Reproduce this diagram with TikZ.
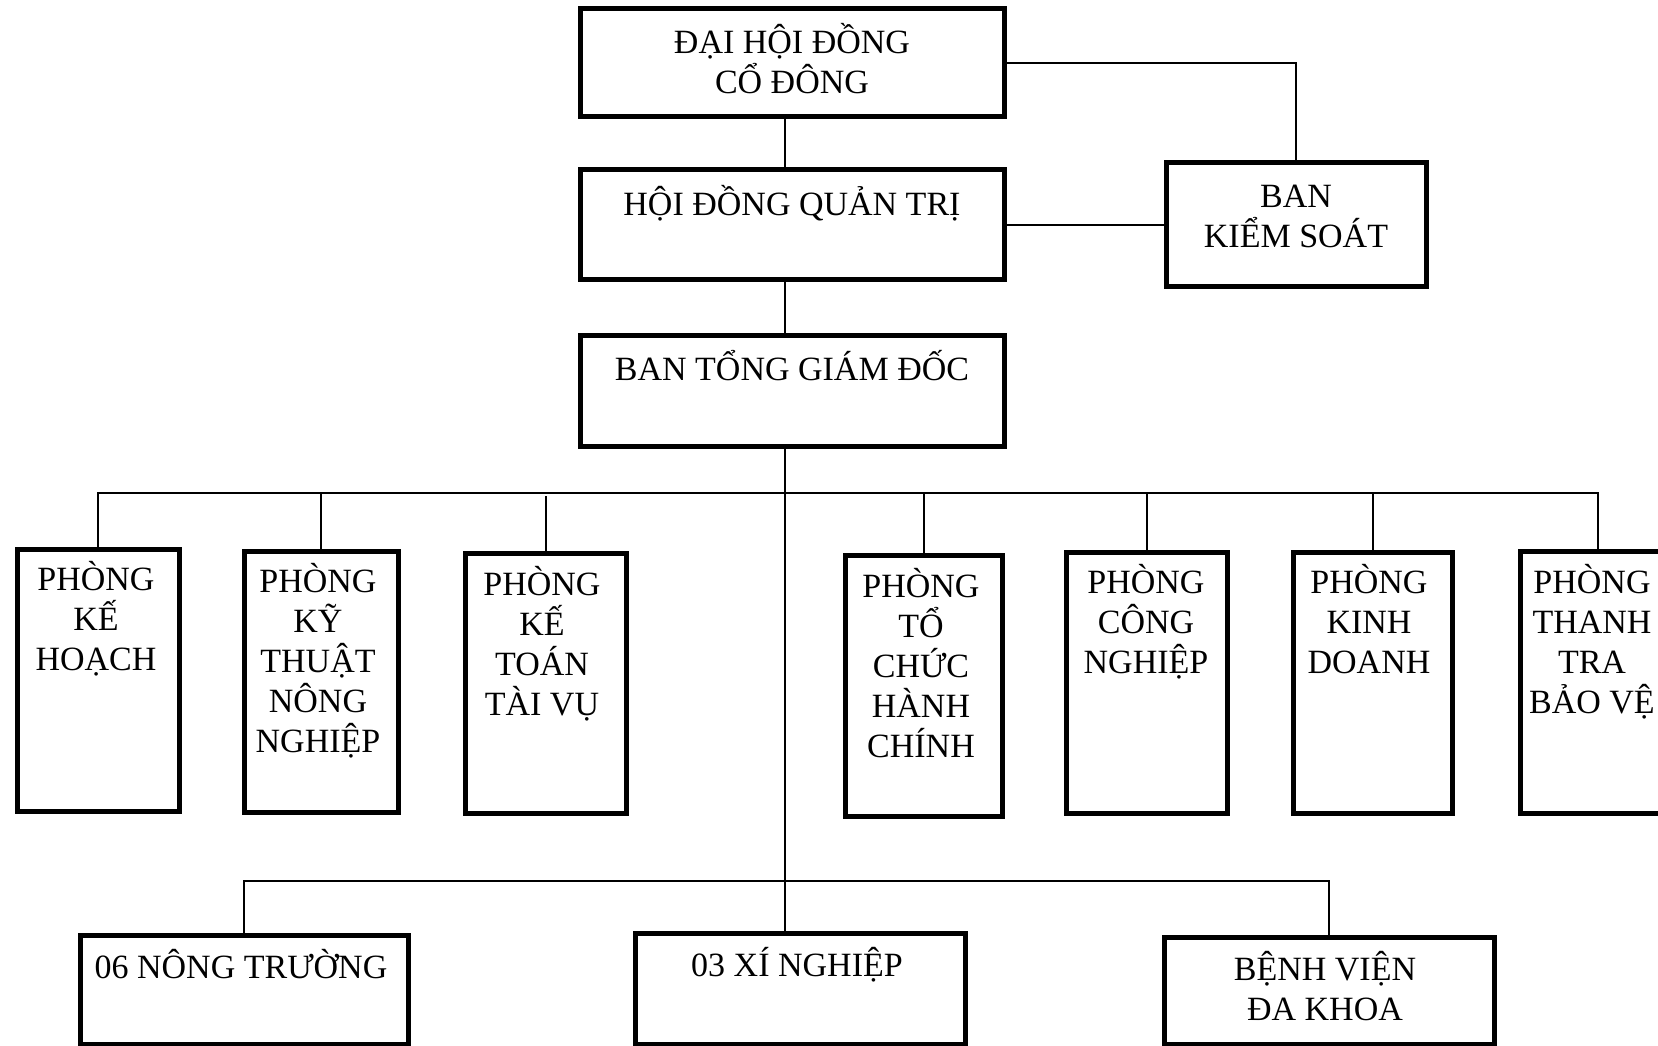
\documentclass[tikz,border=0pt]{standalone}
\usepackage{fontspec}
\setmainfont{Liberation Serif}
\begin{document}
\begin{tikzpicture}[x=1pt,y=-1pt,
  box/.style={draw=black,line width=5pt,inner sep=0pt,outer sep=0pt,fill=white},
  conn/.style={draw=black,line width=2pt},
  txt/.style={anchor=north,inner sep=0pt,align=center,font=\fontsize{34}{40}\selectfont}]
\useasboundingbox (0,0) rectangle (1658,1046);
\fill[white] (0,0) rectangle (1658,1046);
\clip (0,0) rectangle (1658,1046);
\newcommand{\fs}{\rule{0pt}{34pt}}
% top boxes
\node[box,minimum width=424pt,minimum height=108pt] (dh) at (792,63) {};
\node[box,minimum width=424pt,minimum height=109pt] (hd) at (792,224.5) {};
\node[box,minimum width=424pt,minimum height=111pt] (bt) at (792,390.5) {};
\node[box,minimum width=260pt,minimum height=123pt] (bks) at (1296,224.5) {};
% department boxes
\node[box,minimum width=162pt,minimum height=262pt] (p1) at (98,680) {};
\node[box,minimum width=154pt,minimum height=261pt] (p2) at (321,681.5) {};
\node[box,minimum width=161pt,minimum height=260pt] (p3) at (545.5,683) {};
\node[box,minimum width=157pt,minimum height=261pt] (p4) at (924,685.5) {};
\node[box,minimum width=161pt,minimum height=261pt] (p5) at (1147,682.5) {};
\node[box,minimum width=159pt,minimum height=261pt] (p6) at (1373,682.5) {};
\node[box,minimum width=155pt,minimum height=262pt] (p7) at (1598,682) {};
% bottom boxes
\node[box,minimum width=328pt,minimum height=109.5pt] (nt) at (244,989.75) {};
\node[box,minimum width=330pt,minimum height=111.5pt] (xn) at (800,988.75) {};
\node[box,minimum width=330pt,minimum height=107.5pt] (bv) at (1329,990.75) {};
% texts
\node[txt] (dh-t) at (792,19) {\fs ĐẠI HỘI ĐỒNG\\CỔ ĐÔNG};
\node[txt] (hd-t) at (792,181) {\fs HỘI ĐỒNG QUẢN TRỊ};
\node[txt] (bt-t) at (792,346) {\fs BAN TỔNG GIÁM ĐỐC};
\node[txt] (bks-t) at (1296,173) {\fs BAN\\KIỂM SOÁT};
\node[txt] (p1-t) at (96,556) {\fs PHÒNG\\KẾ\\HOẠCH};
\node[txt] (p2-t) at (318,558) {\fs PHÒNG\\KỸ\\THUẬT\\NÔNG\\NGHIỆP};
\node[txt] (p3-t) at (542,561) {\fs PHÒNG\\KẾ\\TOÁN\\TÀI VỤ};
\node[txt] (p4-t) at (921,563) {\fs PHÒNG\\TỔ\\CHỨC\\HÀNH\\CHÍNH};
\node[txt] (p5-t) at (1146,559) {\fs PHÒNG\\CÔNG\\NGHIỆP};
\node[txt] (p6-t) at (1369,559) {\fs PHÒNG\\KINH\\DOANH};
\node[txt] (p7-t) at (1592,559) {\fs PHÒNG\\THANH\\TRA\\BẢO VỆ};
\node[txt] (nt-t) at (241,944) {\fs 06 NÔNG TRƯỜNG};
\node[txt] (xn-t) at (797,942) {\fs 03 XÍ NGHIỆP};
\node[txt] (bv-t) at (1325,946) {\fs BỆNH VIỆN\\ĐA KHOA};
% connectors
\coordinate (bus) at (785,493);
\coordinate (bus2) at (785,881);
\coordinate (bus3) at (785,496);
\draw[conn] (dh.south -| bus) -- (hd.north -| bus);
\draw[conn] (hd.south -| bus) -- (bt.north -| bus);
\draw[conn] (dh.east) -| (bks.north);
\draw[conn] (hd.east) -- (bks.west);
\draw[conn] (bt.south -| bus) -- (xn.north -| bus);
\draw[conn] (p1.north) |- (p7.north |- bus) -- (p7.north);
\foreach \p in {p2,p4,p5,p6}{\draw[conn] (\p.north) -- (\p.north |- bus);}
\draw[conn] (p3.north) -- (p3.north |- bus3);
\draw[conn] (nt.north) |- (bv.north |- bus2) -- (bv.north);
\end{tikzpicture}
\end{document}
